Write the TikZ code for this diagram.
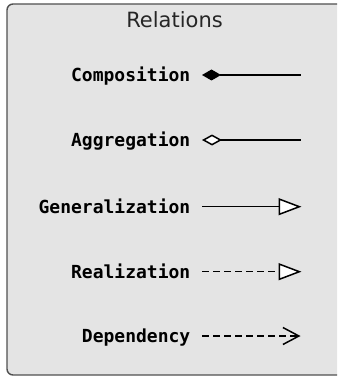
\documentclass[tikz,border=0pt]{standalone}
\usepackage{fontspec}
\setmainfont{DejaVu Sans}
\newfontfamily\labelfont{DejaVu Sans Mono}
\usetikzlibrary{arrows.meta}
\definecolor{panelfill}{HTML}{E4E4E4}
\definecolor{panelline}{HTML}{505050}
\begin{document}
\begin{tikzpicture}[x=1pt,y=-1pt,
  panel/.style={draw=panelline,fill=panelfill,line width=1.4pt,rounded corners=6pt},
  title/.style={font=\fontsize{21}{24}\selectfont,text=black!85,inner sep=0pt},
  rel/.style={font=\labelfont\bfseries\fontsize{18}{20}\selectfont,anchor=base east,inner sep=0pt},
  link/.style={line width=1.5pt,draw=black,shorten <=11.5pt},
  dashline/.style={dash pattern=on 7pt off 4pt}
]
\useasboundingbox (0,0) rectangle (337,377);
\clip (0,0) rectangle (337,377);
\draw[panel] (7,4) rectangle (350,375);
\node[title] (heading) at (174.5,20) {Relations};

% labels (baseline sits half a cap height below the connector)
\node[rel] (comp) at (190.5,81.6)  {Composition};
\node[rel] (aggr) at (190.5,146.6) {Aggregation};
\node[rel] (gen)  at (190.5,213.3) {Generalization};
\node[rel] (real) at (190.5,278.3) {Realization};
\node[rel] (dep)  at (190.5,342.6) {Dependency};

% free ends of the connectors
\coordinate (compEnd) at (301,75);
\coordinate (aggrEnd) at (301,140);
\coordinate (genEnd)  at (301.5,206.7);
\coordinate (realEnd) at (301.5,271.7);
\coordinate (depEnd)  at (300.5,336);

\draw[link,{Diamond[length=19pt,width=11pt,fill=black]}-]
  (comp.east |- compEnd) -- (compEnd);
\draw[link,{Diamond[length=20pt,width=11pt,fill=white]}-]
  (aggr.east |- aggrEnd) -- (aggrEnd);
\draw[link,-{Triangle[length=23pt,width=17pt,fill=white]}]
  (gen.east |- genEnd) -- (genEnd);
\draw[link,dashline,-{Triangle[length=23pt,width=17pt,fill=white]}]
  (real.east |- realEnd) -- (realEnd);
\draw[link,dashline,-{Straight Barb[length=16pt,width=17pt]}]
  (dep.east |- depEnd) -- (depEnd);
\end{tikzpicture}
\end{document}
